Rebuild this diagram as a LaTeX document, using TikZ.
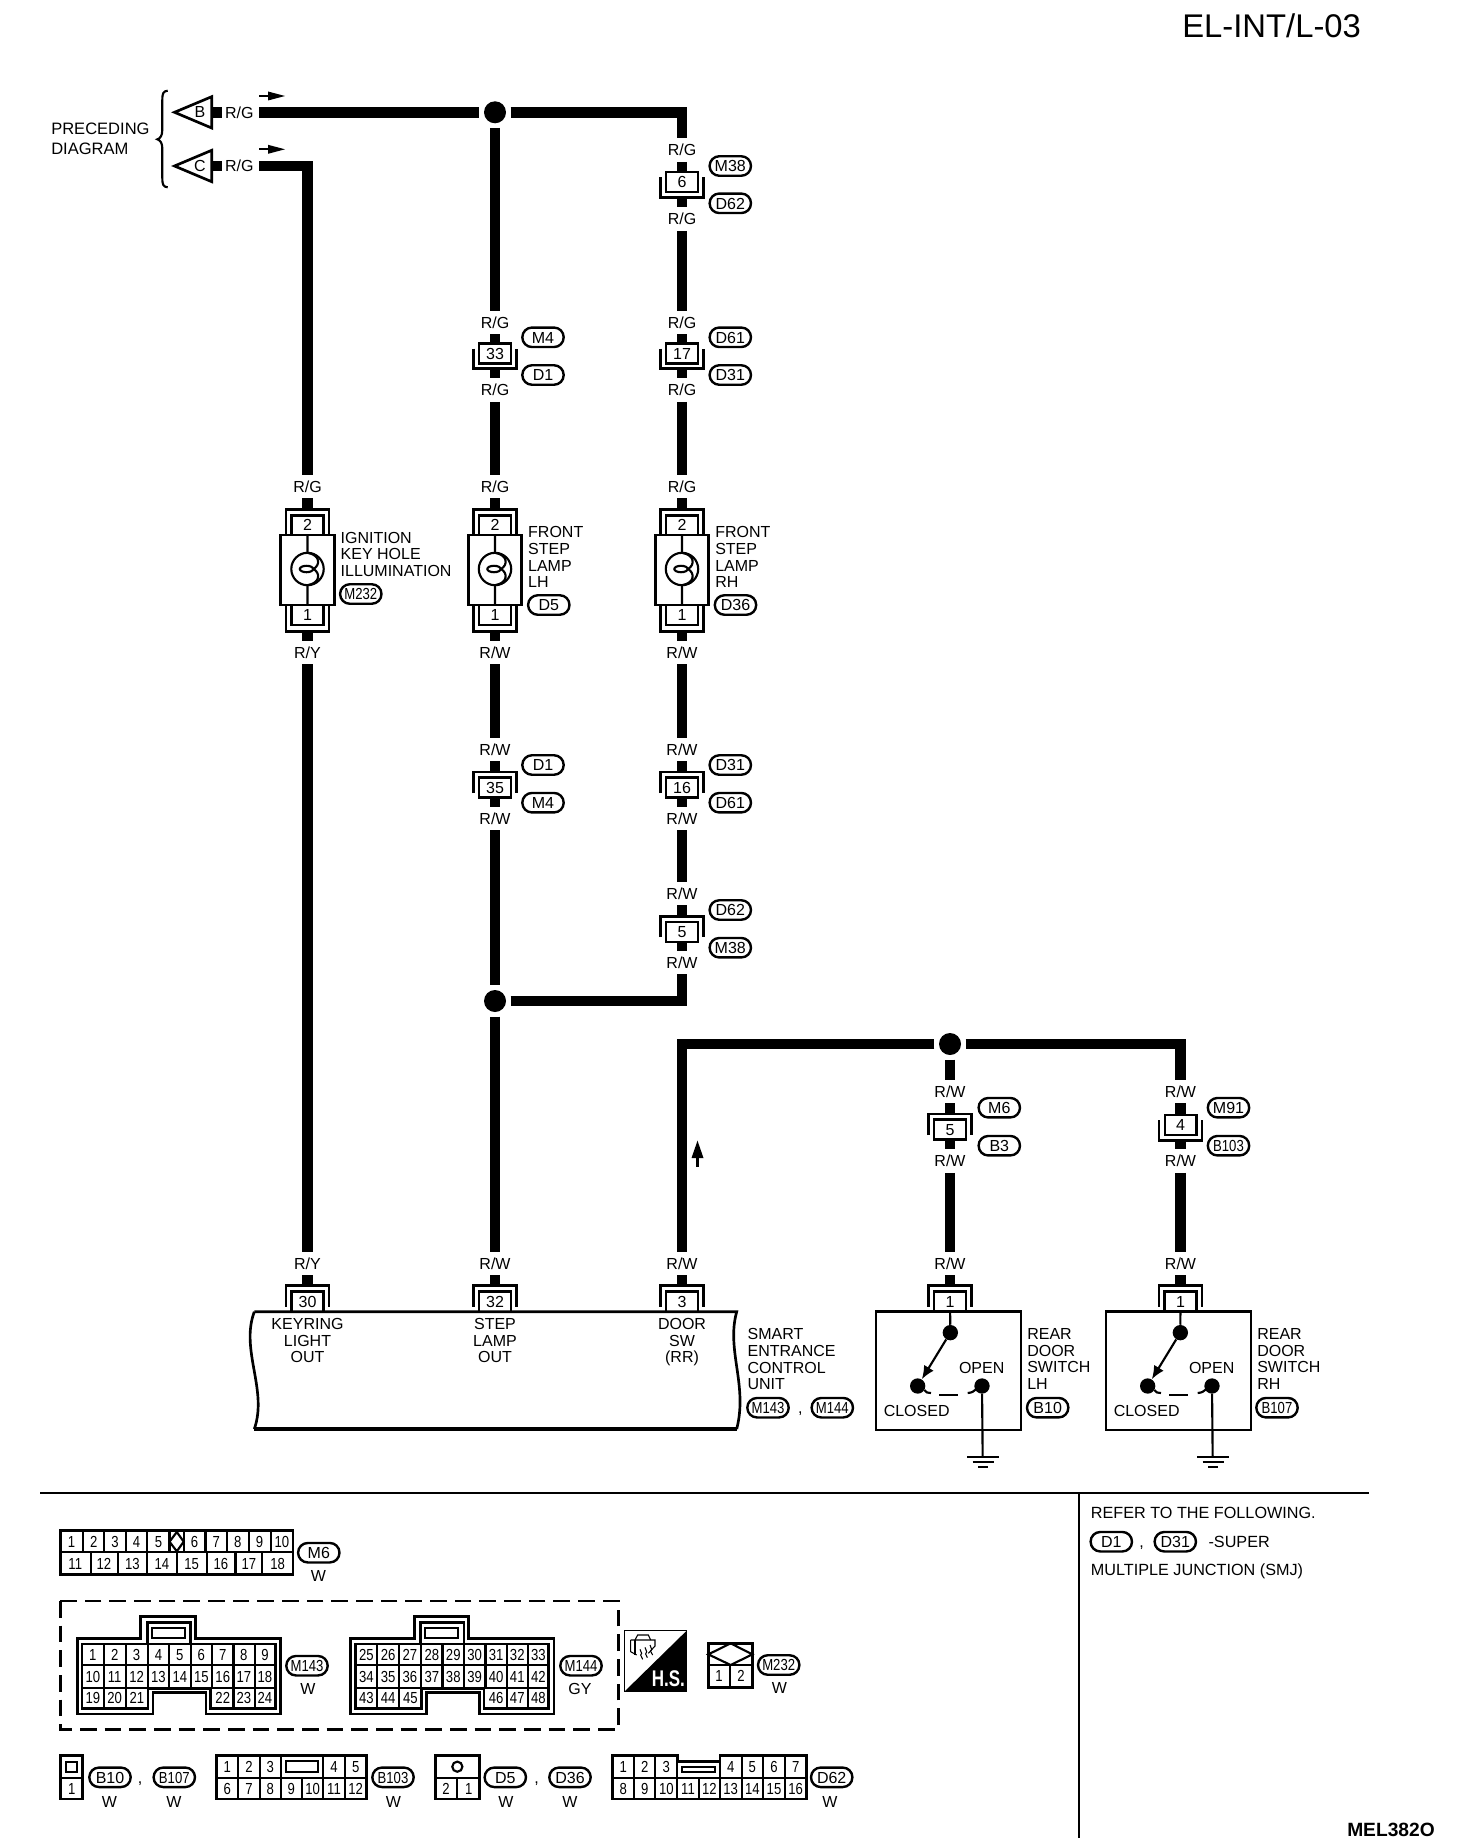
\documentclass[tikz,border=0pt]{standalone}
\usepackage{fontspec}
\setmainfont{Liberation Sans}
\newfontfamily\cnd[FakeStretch=0.82]{Liberation Sans}
\newfontfamily\hsf[FakeStretch=0.75]{Liberation Sans}
\usetikzlibrary{arrows.meta}
\newcommand\fs{\fontsize{12}{12.5}\selectfont}
\tikzset{
  wire/.style={line width=8pt,line cap=butt,line join=miter},
  lwo/.style={line width=2pt,line join=miter},
  lwi/.style={line width=1.6pt},
  tx/.style={inner sep=0pt,text height=8.6pt,text depth=0pt,font=\fs},
  wlab/.style={tx,minimum height=17.25pt},
  pinnum/.style={tx,font=\fs\cnd},
  mline/.style={inner sep=0pt,font=\fs,anchor=north west,align=left},
  mcen/.style={inner sep=0pt,font=\fs,anchor=north,align=center},
  extent/.style={inner sep=0pt,minimum width=32pt},
  cbox/.style={tx,draw,line width=1.8pt,minimum width=23.7pt,minimum height=15pt},
  ovalbox/.style={tx,draw,line width=1.8pt,rounded corners=7.2pt,minimum width=31pt,minimum height=14.6pt},
  jdot/.style={circle,fill=black,inner sep=0pt,minimum size=16.5pt,outer sep=3.5pt},
  swdot/.style={circle,fill=black,inner sep=0pt,minimum size=11.5pt},
  notetx/.style={tx,anchor=west,font=\fontsize{12.15}{13}\selectfont},
}
% connector with the bracket below the pin box
\newcommand\inA[4]{%
  \node[extent,minimum height=20.8pt] (#1) at (#2,#3+2.85) {};
  \node[cbox] (#1n) at (#2,#3) {#4};
  \draw[lwo] (#2-21.5,#3-4.7) -- (#2-21.5,#3+15.5) -- (#2+21.5,#3+15.5) -- (#2+21.5,#3-4.7);
}
% connector with the bracket above the pin box
\newcommand\inB[4]{%
  \node[extent,minimum height=20.25pt] (#1) at (#2,#3-2.5) {};
  \node[cbox] (#1n) at (#2,#3) {#4};
  \draw[lwo] (#2-21.5,#3+5.5) -- (#2-21.5,#3-15.5) -- (#2+21.5,#3-15.5) -- (#2+21.5,#3+5.5);
}
\newcommand\wl[4]{\node[wlab] (#1) at (#2,#3) {#4};}
\newcommand\ov[4]{\node[ovalbox] (#1) at (#2,#3) {#4};}
% lamp with its two connectors
\newcommand\lamp[2]{%
  \node[extent,minimum height=93pt] (#1) at (#2,570.3) {};
  \begin{scope}[shift={(#2,0)}]
    \draw[line width=2pt] (-26.8,535) rectangle (26.8,605);
    \draw[lwo] (-16,535) -- (-16,515.3) -- (16,515.3) -- (16,535);
    \draw[lwo] (-16,605) -- (-16,625) -- (16,625) -- (16,605);
    \draw[lwo] (-21.5,535) -- (-21.5,509.3) -- (21.5,509.3) -- (21.5,535);
    \draw[lwo] (-21.5,605) -- (-21.5,631.3) -- (21.5,631.3) -- (21.5,605);
    \node[tx] (#1t) at (0,524.8) {2};
    \node[tx] (#1b) at (0,615.2) {1};
    \draw[lwi] (0,569) circle [radius=12.15pt];
    \draw[lwi] (0,535) -- (0,552.8) .. controls (13,555) and (13,565) .. (6,569)
       .. controls (13,573) and (13,583) .. (0,585.2) -- (0,605);
    \draw[lwi] (-1,569) ellipse [x radius=5pt,y radius=2.4pt];
  \end{scope}
}
% connector on top of a unit or a switch
\newcommand\toppin[3]{%
  \node[extent,minimum height=20.5pt] (#1) at (#2,1298) {};
  \draw[lwo] (#2-16,1311.7) -- (#2-16,1291.7) -- (#2+16,1291.7) -- (#2+16,1311.7);
  \draw[lwo] (#2-21.5,1306.7) -- (#2-21.5,1285.3) -- (#2+21.5,1285.3) -- (#2+21.5,1306.7);
  \node[tx] (#1n) at (#2,1301.5) {#3};
}
% rear door switch
\newcommand\swbox[6]{%
  \begin{scope}[shift={(#2,1240)},x=.25pt,y=-.25pt]
    \draw[lwo] (45,215) rectangle (480,570);
    \node[swdot] (#1p) at (268,278) {};
    \node[swdot] (#1c) at (170,438) {};
    \node[swdot] (#1o) at (363,438) {};
    \draw[lwi] (#3) -- (#1p);
    \draw[lwi,-{Latex[length=10pt,width=8.5pt]}] (#1p) -- (#1c);
    \draw[lwi] (190,450) .. controls (195,458) and (200,459) .. (210,459);
    \draw[lwi] (235,465) -- (290,465);
    \draw[lwi] (320,459) .. controls (332,458) and (338,455) .. (345,448);
    \node[tx] (#1ol) at (362,383) {OPEN};
    \node[tx] (#1cl) at (167,513) {CLOSED};
    \coordinate (#1g) at (365,648);
    \draw[lwi] (#1o) -- (#1g);
    \draw[lwi] (318,650) -- (413,650);
    \draw[lwi] (335,665) -- (398,665);
    \draw[lwi] (352,680) -- (382,680);
    \node[mline] (#1lab) at (498,265) {REAR\\DOOR\\SWITCH\\#4};
    \node[ovalbox] (#1ov) at (#6,503) {#5};
  \end{scope}
}
% large grommet connector
\newcommand\ecu[3]{%
  \begin{scope}[shift={(#2,0)}]
    \draw[lwo] (97,355) -- (263,355) -- (263,290) -- (405,290) -- (405,355) -- (628,355) -- (628,582)
      -- (433,582) -- (433,517) -- (295,517) -- (295,582) -- (97,582) -- cycle;
    \draw[lwo] (110,372) -- (614,372) -- (614,565) -- (445,565) -- (445,505) -- (282,505) -- (282,565) -- (110,565) -- cycle;
    \draw[lwo] (280,372) -- (280,308) -- (393,308) -- (393,372);
    \draw[lwi] (292,325) rectangle (378,355);
    \draw[lwi] (110,436) -- (614,436);
    \draw[lwi] (110,503) -- (282,503);
    \draw[lwi] (445,503) -- (614,503);
    \foreach \x in {167,224,281,337,393,449,505,560} {\draw[lwi] (\x,372) -- (\x,503);}
    \foreach \x in {167,224,505,560} {\draw[lwi] (\x,503) -- (\x,565);}
    \foreach \x [count=\i from 0] in {138,195,252,309,365,421,477,532,587} {
      \pgfmathtruncatemacro\nn{#3+\i}\node[pinnum] (#1a\i) at (\x,404) {\nn};
      \pgfmathtruncatemacro\nn{#3+9+\i}\node[pinnum] (#1b\i) at (\x,469) {\nn};
    }
    \foreach \x [count=\i from 0] in {138,195,253,477,532,587} {
      \pgfmathtruncatemacro\nn{#3+18+\i}\node[pinnum] (#1c\i) at (\x,533) {\nn};
    }
  \end{scope}
}
\begin{document}
\begin{tikzpicture}[x=.75pt,y=-.75pt]
\useasboundingbox (0,0) rectangle (1472,1848);

\node[inner sep=0pt,anchor=north west,font=\fontsize{24.6}{28}\selectfont] (title) at (1182,13) {EL-INT/L-03};
\node[inner sep=0pt,anchor=east,font=\fontsize{14.4}{16}\selectfont\bfseries] (code) at (1435,1830) {MEL382O};

% preceding diagram
\node[inner sep=0pt,anchor=north west,align=left,font=\fontsize{12.4}{14.4}\selectfont] (prec) at (51,123) {PRECEDING\\DIAGRAM};
\draw[lwi] (167.7,90.7) .. controls (163,91) and (162.3,94) .. (162.3,100) -- (162.3,130)
  .. controls (162.3,136) and (160,138.5) .. (157.3,139.3)
  .. controls (160,140) and (162.3,143) .. (162.3,148) -- (162.3,178)
  .. controls (162.3,184) and (163,187) .. (167.7,187.3);
\draw[lwo] (174.5,112.3) -- (211.7,96.7) -- (211.7,128) -- cycle;
\draw[lwo] (174.5,166) -- (211.7,150.3) -- (211.7,181.7) -- cycle;
\node[tx] (tB) at (200,112) {B};
\node[tx] (tC) at (200,166) {C};
\coordinate (sB1) at (211.7,112.3); \coordinate (sB2) at (221.7,112.3);
\coordinate (sC1) at (211.7,166);   \coordinate (sC2) at (221.7,166);
\draw[wire] (sB1) -- (sB2);
\draw[wire] (sC1) -- (sC2);
\node[tx] (rgB) at (239.3,112.3) {R/G};
\node[tx] (rgC) at (239.3,166) {R/G};
\draw[lwi] (259,96) -- (268,96);
\fill (268,91.5) -- (285,96) -- (268,100.5) -- cycle;
\draw[lwi] (259,149.3) -- (268,149.3);
\fill (268,144.8) -- (285,149.3) -- (268,153.8) -- cycle;
\coordinate (wB) at (259,112.3);
\coordinate (wC) at (259,166);

% junctions
\node[jdot] (j1) at (495,112.3) {};
\node[jdot] (j2) at (495,1001) {};
\node[jdot] (j3) at (950,1044) {};

% column 1
\wl{a1}{307.5}{486.7}{R/G}
\lamp{lampA}{307.5}
\wl{a2}{307.5}{652.7}{R/Y}
\wl{a3}{307.5}{1263.3}{R/Y}
\toppin{pA}{307.5}{30}
\draw[wire] (wC) -| (a1);
\draw[wire] (a1) -- (lampA);
\draw[wire] (lampA) -- (a2);
\draw[wire] (a2) -- (a3);
\draw[wire] (a3) -- (pA);

% column 2
\wl{b1}{495}{322.3}{R/G}
\inA{c33}{495}{353.3}{33}
\ov{o1}{543}{337.3}{M4}
\ov{o2}{543}{375}{D1}
\wl{b2}{495}{390}{R/G}
\wl{b3}{495}{486.7}{R/G}
\lamp{lampB}{495}
\wl{b4}{495}{652.7}{R/W}
\wl{b5}{495}{749.3}{R/W}
\inB{c35}{495}{787.5}{35}
\ov{o3}{543}{765}{D1}
\ov{o4}{543}{802.7}{M4}
\wl{b6}{495}{818.3}{R/W}
\wl{b7}{495}{1263.3}{R/W}
\toppin{pB}{495}{32}
\draw[wire] (wB) -- (j1);
\draw[wire] (j1) -- (b1);
\draw[wire] (b1) -- (c33);
\draw[wire] (c33) -- (b2);
\draw[wire] (b2) -- (b3);
\draw[wire] (b3) -- (lampB);
\draw[wire] (lampB) -- (b4);
\draw[wire] (b4) -- (b5);
\draw[wire] (b5) -- (c35);
\draw[wire] (c35) -- (b6);
\draw[wire] (b6) -- (j2);
\draw[wire] (j2) -- (b7);
\draw[wire] (b7) -- (pB);

% column 3
\wl{d1}{682}{150}{R/G}
\inA{c6}{682}{182}{6}
\ov{o5}{730.3}{166}{M38}
\ov{o6}{730.3}{203.3}{D62}
\wl{d2}{682}{219}{R/G}
\wl{d3}{682}{322.3}{R/G}
\inA{c17}{682}{353.3}{17}
\ov{o7}{730.3}{337.3}{D61}
\ov{o8}{730.3}{375}{D31}
\wl{d4}{682}{390}{R/G}
\wl{d5}{682}{486.7}{R/G}
\lamp{lampC}{682}
\wl{d6}{682}{652.7}{R/W}
\wl{d7}{682}{749.3}{R/W}
\inB{c16}{682}{787.5}{16}
\ov{o9}{730.3}{765}{D31}
\ov{o10}{730.3}{802.7}{D61}
\wl{d8}{682}{818.3}{R/W}
\wl{d9}{682}{893.3}{R/W}
\inB{c5}{682}{931.7}{5}
\ov{o11}{730.3}{910}{D62}
\ov{o12}{730.3}{947.7}{M38}
\wl{d10}{682}{962.7}{R/W}
\draw[wire] (j1) -| (d1);
\draw[wire] (d1) -- (c6);
\draw[wire] (c6) -- (d2);
\draw[wire] (d2) -- (d3);
\draw[wire] (d3) -- (c17);
\draw[wire] (c17) -- (d4);
\draw[wire] (d4) -- (d5);
\draw[wire] (d5) -- (lampC);
\draw[wire] (lampC) -- (d6);
\draw[wire] (d6) -- (d7);
\draw[wire] (d7) -- (c16);
\draw[wire] (c16) -- (d8);
\draw[wire] (d8) -- (d9);
\draw[wire] (d9) -- (c5);
\draw[wire] (c5) -- (d10);
\draw[wire] (j2) -| (d10);

% door switch circuit
\wl{e0}{682}{1263.3}{R/W}
\toppin{pC}{682}{3}
\draw[wire] (j3) -| (e0);
\draw[wire] (e0) -- (pC);
\draw[lwi] (697.5,1166.7) -- (697.5,1157);
\fill (691.5,1158) -- (697.5,1140.7) -- (703.5,1158) -- cycle;

\wl{f1}{950}{1091.7}{R/W}
\inB{c5b}{950}{1129.5}{5}
\ov{o13}{999.3}{1107.7}{M6}
\ov{o14}{999.3}{1145.7}{B3}
\wl{f2}{950}{1161}{R/W}
\wl{f3}{950}{1263.3}{R/W}
\toppin{pD}{950}{1}
\draw[wire] (j3) -- (f1);
\draw[wire] (f1) -- (c5b);
\draw[wire] (c5b) -- (f2);
\draw[wire] (f2) -- (f3);
\draw[wire] (f3) -- (pD);

\wl{g1}{1180.5}{1091.7}{R/W}
\inA{c4}{1180.5}{1125}{4}
\ov{o15}{1228.5}{1107.7}{M91}
\ov{o16}{1228.5}{1145.7}{\cnd B103}
\wl{g2}{1180.5}{1161}{R/W}
\wl{g3}{1180.5}{1263.3}{R/W}
\toppin{pE}{1180.5}{1}
\draw[wire] (j3) -| (g1);
\draw[wire] (g1) -- (c4);
\draw[wire] (c4) -- (g2);
\draw[wire] (g2) -- (g3);
\draw[wire] (g3) -- (pE);

% lamp captions
\node[mline] (capA) at (340.4,531.7) {IGNITION\\KEY HOLE\\ILLUMINATION};
\ov{oA}{360.8}{594}{\cnd M232}
\node[mline] (capB) at (527.9,526.3) {FRONT\\STEP\\LAMP\\LH};
\ov{oB}{548.8}{605}{D5}
\node[mline] (capC) at (715,526.3) {FRONT\\STEP\\LAMP\\RH};
\ov{oC}{735.5}{605}{D36}

% control unit
\draw[lwo] (254.3,1311.7) -- (736.7,1311.7) .. controls (726,1350) and (748,1385) .. (736.7,1429);
\draw[line width=2.6pt] (736.7,1429) -- (254.3,1429);
\draw[lwo] (254.3,1429) .. controls (268,1390) and (240,1350) .. (254.3,1311.7);
\node[mcen] (u1) at (307.5,1318) {KEYRING\\LIGHT\\OUT};
\node[mcen] (u2) at (495,1318) {STEP\\LAMP\\OUT};
\node[mcen] (u3) at (682,1318) {DOOR\\SW\\(RR)};
\node[mline] (u4) at (747.3,1328.3) {SMART\\ENTRANCE\\CONTROL\\UNIT};
\ov{oU1}{768}{1407.7}{\cnd M143}
\node[tx] (cU) at (800.4,1407.7) {,};
\ov{oU2}{832.3}{1407.7}{\cnd M144}

% switches
\swbox{sL}{861}{pD}{LH}{B10}{560}
\swbox{sR}{1091}{pE}{RH}{\cnd B107}{558}

% separators
\draw[line width=1.7pt] (40,1493.3) -- (1369,1493.3);
\draw[line width=1.4pt] (1079,1493.3) -- (1079,1838);

% note
\node[notetx] (n1) at (1090.7,1512.3) {REFER TO THE FOLLOWING.};
\ov{oN1}{1111.3}{1541.7}{D1}
\node[tx] (nc) at (1141.7,1541.7) {,};
\ov{oN2}{1175.3}{1541.7}{D31}
\node[notetx] (n2) at (1208.3,1541.7) {-SUPER};
\node[notetx] (n3) at (1090.7,1570) {MULTIPLE JUNCTION (SMJ)};

% M6, M143, M144
\begin{scope}[shift={(40,1520)},x=.2874pt,y=-.25pt]
  \draw[lwo] (53,32) rectangle (660,163);
  \draw[lwi] (53,97) -- (660,97);
  \foreach \x in {112,168,225,280,338,375,432,488,545,602} {\draw[lwi] (\x,32) -- (\x,97);}
  \foreach \x in {132,203,280,357,435,510,580} {\draw[lwi] (\x,97) -- (\x,163);}
  \draw[lwi] (357,36) -- (375,65) -- (357,94) -- (338,65) -- cycle;
  \foreach \x/\t [count=\i] in {82/1,140/2,196/3,252/4,309/5,403/6,460/7,516/8,573/9,631/10} {\node[pinnum] (m6u\i) at (\x,65) {\t};}
  \foreach \x/\t [count=\i] in {92/11,167/12,241/13,318/14,396/15,472/16,545/17,620/18} {\node[pinnum] (m6l\i) at (\x,131) {\t};}
  \ecu{ma}{0}{1}
  \ecu{mb}{713.5}{25}
\end{scope}
\ov{oM6}{318.8}{1552.7}{M6}
\node[tx] (wM6) at (318.5,1575.7) {W};
\ov{oM143}{307}{1665.7}{\cnd M143}
\node[tx] (wM143) at (308,1688.3) {W};
\ov{oM144}{581}{1665.7}{\cnd M144}
\node[tx] (wM144) at (580,1688.3) {GY};
\draw[lwo,dash pattern=on 12.5pt off 6pt] (60.3,1601) rectangle (618.5,1729.3);

% H.S. icon and M232
\begin{scope}[shift={(340,1590)},x=.25pt,y=-.25pt]
  \draw[line width=1.2pt] (853,122) rectangle (1040,305);
  \fill (1040,122) -- (853,305) -- (1040,305) -- cycle;
  \node[inner sep=0pt,text=white,font=\fontsize{17}{17}\hsf\bfseries] (hs) at (985,265) {H.S.};
  \draw[line width=.8pt] (872,150) -- (945,150) -- (945,168) -- (925,190);
  \draw[line width=.8pt] (885,150) -- (893,135) -- (925,135) -- (932,150);
  \draw[line width=.8pt] (872,150) -- (872,185) -- (890,195);
  \draw[line width=.8pt] (885,150) -- (885,195);
  \draw[line width=.8pt] (900,178) -- (905,190) -- (902,195) -- (908,208);
  \draw[line width=.8pt] (915,172) -- (920,185) -- (917,192) -- (922,203);
  \draw[line width=.8pt] (930,165) -- (935,178) -- (932,184) -- (938,195);
  \draw[lwo] (1105,160) rectangle (1237,292);
  \draw[lwi] (1105,225) -- (1237,225);
  \draw[lwi] (1170,225) -- (1170,292);
  \draw[lwi] (1105,193) -- (1172,160) -- (1237,193) -- (1172,225) -- cycle;
  \node[pinnum] (m232a) at (1137,258) {1};
  \node[pinnum] (m232b) at (1203,258) {2};
\end{scope}
\ov{oM232}{778.7}{1665}{\cnd M232}
\node[tx] (wM232) at (779.3,1687.7) {W};

% bottom row, left part
\begin{scope}[shift={(40,1750)},x=.25pt,y=-.25pt]
  \draw[lwo] (62,17) rectangle (128,147);
  \draw[lwi] (62,85) -- (128,85);
  \draw[lwi] (78,35) rectangle (112,67);
  \node[pinnum] (b10a) at (95,117) {1};
  \draw[lwo] (530,17) rectangle (980,147);
  \draw[lwi] (530,85) -- (980,85);
  \foreach \x in {595,660,722,850,915} {\draw[lwi] (\x,17) -- (\x,147);}
  \draw[lwi] (787,85) -- (787,147);
  \draw[lwi] (737,33) rectangle (835,67);
  \foreach \x/\t [count=\i] in {562/1,627/2,691/3,882/4,947/5} {\node[pinnum] (b103u\i) at (\x,50) {\t};}
  \foreach \x/\t [count=\i] in {562/6,627/7,691/8,754/9,818/10,882/11,947/12} {\node[pinnum] (b103l\i) at (\x,117) {\t};}
\end{scope}
\ov{oB10}{110}{1777.3}{B10}
\node[tx] (wB10) at (109.3,1801.7) {W};
\node[tx] (c1) at (140,1777.3) {,};
\ov{oB107}{174.3}{1777.3}{\cnd B107}
\node[tx] (wB107) at (174,1801.7) {W};
\ov{oB103}{393}{1777.3}{\cnd B103}
\node[tx] (wB103) at (393.3,1801.7) {W};

% bottom row, right part
\begin{scope}[shift={(420,1750)},x=.25pt,y=-.25pt]
  \draw[lwo] (47,17) rectangle (178,147);
  \draw[lwi] (47,85) -- (178,85);
  \draw[lwi] (112,85) -- (112,147);
  \draw[lwi] (112,50) circle [radius=3.8pt];
  \node[pinnum] (d5a) at (78,117) {2};
  \node[pinnum] (d5b) at (146,117) {1};
  \draw[lwo] (578,17) -- (772,17) -- (772,35) -- (900,35) -- (900,17) -- (1160,17) -- (1160,147) -- (578,147) -- cycle;
  \draw[lwi] (578,85) -- (1160,85);
  \foreach \x in {642,706,772,900,965,1030,1094} {\draw[lwi] (\x,17) -- (\x,147);}
  \foreach \x in {836} {\draw[lwi] (\x,85) -- (\x,147);}
  \draw[lwi] (785,50) rectangle (885,67);
  \foreach \x/\t [count=\i] in {610/1,674/2,739/3,932/4,997/5,1062/6,1127/7} {\node[pinnum] (d62u\i) at (\x,50) {\t};}
  \foreach \x/\t [count=\i] in {610/8,674/9,739/10,804/11,868/12,932/13,997/14,1062/15,1127/16} {\node[pinnum] (d62l\i) at (\x,117) {\t};}
\end{scope}
\ov{oD5}{505.3}{1777.3}{D5}
\node[tx] (wD5) at (506,1801.7) {W};
\node[tx] (c2) at (536.7,1777.3) {,};
\ov{oD36}{570}{1777.3}{D36}
\node[tx] (wD36) at (570,1801.7) {W};
\ov{oD62}{831.7}{1777.3}{D62}
\node[tx] (wD62) at (830,1801.7) {W};
\end{tikzpicture}
\end{document}
